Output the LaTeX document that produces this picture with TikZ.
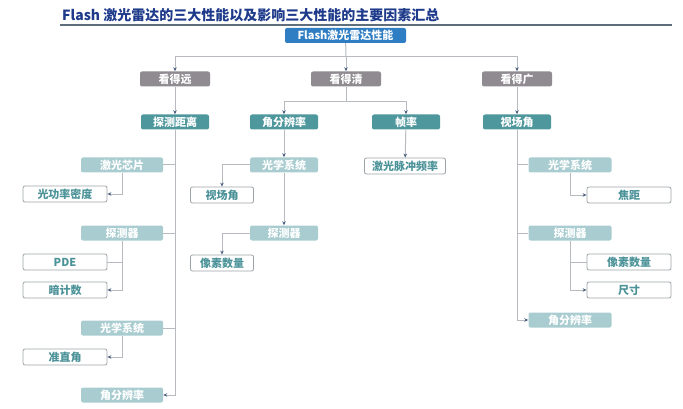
\documentclass[tikz,border=0pt]{standalone}
\usepackage{fontspec}
\setmainfont{Noto Sans CJK SC}
\usetikzlibrary{arrows.meta}
\definecolor{rootc}{HTML}{2F7DC3}
\definecolor{greyc}{HTML}{8F8B90}
\definecolor{tealc}{HTML}{4E979D}
\definecolor{lightc}{HTML}{A9CCD0}
\definecolor{leafline}{HTML}{9CA3A7}
\definecolor{leaftext}{HTML}{4C9399}
\definecolor{linkc}{HTML}{B7BBBF}
\definecolor{tipc}{HTML}{4B5F80}
\definecolor{titlec}{HTML}{1E3A8A}
\definecolor{rulec}{HTML}{5F6E7C}
\begin{document}
\begin{tikzpicture}[x=1pt,y=-1pt,
  every node/.style={font=\bfseries\fontsize{11}{12}\selectfont, inner sep=0pt, rounded corners=2pt},
  rootbox/.style={fill=rootc, text=white, minimum width=121pt, minimum height=15pt},
  lvlone/.style={fill=greyc, text=white, minimum width=70pt, minimum height=15pt},
  lvltwo/.style={fill=tealc, text=white, minimum width=68pt, minimum height=15pt},
  lvlthree/.style={fill=lightc, text=white, minimum width=82pt, minimum height=15pt},
  leafbox/.style={draw=leafline, line width=0.8pt, fill=white, text=leaftext, minimum width=84pt, minimum height=16pt},
  link/.style={draw=linkc, line width=1pt},
  arrlink/.style={link, -{Stealth[length=4pt,width=3.5pt,color=tipc]}}]
\useasboundingbox (0,0) rectangle (683,409);
% title
\node[anchor=west, text=titlec, font=\bfseries\fontsize{14}{16}\selectfont, rounded corners=0pt] (title) at (62,15) {Flash 激光雷达的三大性能以及影响三大性能的主要因素汇总};
\draw[rulec, line width=1.5pt] (60,25) -- (672,25);
% top levels
\node[rootbox] (root) at (345.5,35.5) {Flash激光雷达性能};
\node[lvlone] (far) at (175,79) {看得远};
\node[lvlone] (clear) at (346,79) {看得清};
\node[lvlone] (wide) at (517,79) {看得广};
\node[lvltwo] (range) at (175,122) {探测距离};
\node[lvltwo] (angres) at (284,122) {角分辨率};
\node[lvltwo] (frame) at (406,122) {帧率};
\node[lvltwo] (fov) at (517,122) {视场角};
\coordinate (topbar) at (346,57);
\coordinate (midbar) at (346,102);
\draw[link] (root) -- (topbar);
\draw[arrlink] (topbar) -| (far);
\draw[arrlink] (topbar) -- (clear);
\draw[arrlink] (topbar) -| (wide);
\draw[arrlink] (far) -- (range);
\draw[arrlink] (wide) -- (fov);
\draw[link] (clear) -- (midbar);
\draw[arrlink] (midbar) -| (angres);
\draw[arrlink] (midbar) -| (frame);
% left column
\node[lvlthree] (chip) at (122,165) {激光芯片};
\node[leafbox] (power) at (65,194) {光功率密度};
\node[lvlthree] (det) at (122,233) {探测器};
\node[leafbox] (pde) at (65,262) {PDE};
\node[leafbox] (dark) at (65,290) {暗计数};
\node[lvlthree] (optics) at (122,328) {光学系统};
\node[leafbox] (collim) at (65,357) {准直角};
\node[lvlthree] (angresL) at (122,395) {角分辨率};
\draw[link] (range) |- (chip);
\draw[link] (range) |- (det);
\draw[link] (range) |- (optics);
\draw[arrlink] (range) |- (angresL);
\draw[arrlink] (chip) |- (power);
\draw[link] (det) |- (pde);
\draw[arrlink] (det) |- (dark);
\draw[arrlink] (optics) |- (collim);
% middle column
\node[lvlthree, minimum width=68pt] (optM) at (284,165) {光学系统};
\node[leafbox, minimum width=63pt] (fovM) at (222,195) {视场角};
\node[lvlthree, minimum width=68pt] (detM) at (284,233) {探测器};
\node[leafbox, minimum width=63pt] (pixM) at (222,263) {像素数量};
\node[leafbox, minimum width=81pt] (pulse) at (405,166) {激光脉冲频率};
\draw[arrlink] (angres) -- (optM);
\draw[arrlink] (optM) -- (detM);
\draw[arrlink] (optM.west) -| (fovM);
\draw[arrlink] (detM.west) -| (pixM);
\draw[arrlink] (frame) -- (pulse);
% right column
\node[lvlthree, minimum width=83pt] (optR) at (570,165) {光学系统};
\node[leafbox] (focal) at (629,195) {焦距};
\node[lvlthree, minimum width=83pt] (detR) at (570,233) {探测器};
\node[leafbox] (pixR) at (629,262) {像素数量};
\node[leafbox] (size) at (629,290) {尺寸};
\node[lvlthree, minimum width=83pt] (angresR) at (570,320) {角分辨率};
\draw[link] (fov) |- (optR);
\draw[link] (fov) |- (detR);
\draw[arrlink] (fov) |- (angresR);
\draw[arrlink] (optR) |- (focal);
\draw[link] (detR) |- (pixR);
\draw[arrlink] (detR) |- (size);
\end{tikzpicture}
\end{document}
